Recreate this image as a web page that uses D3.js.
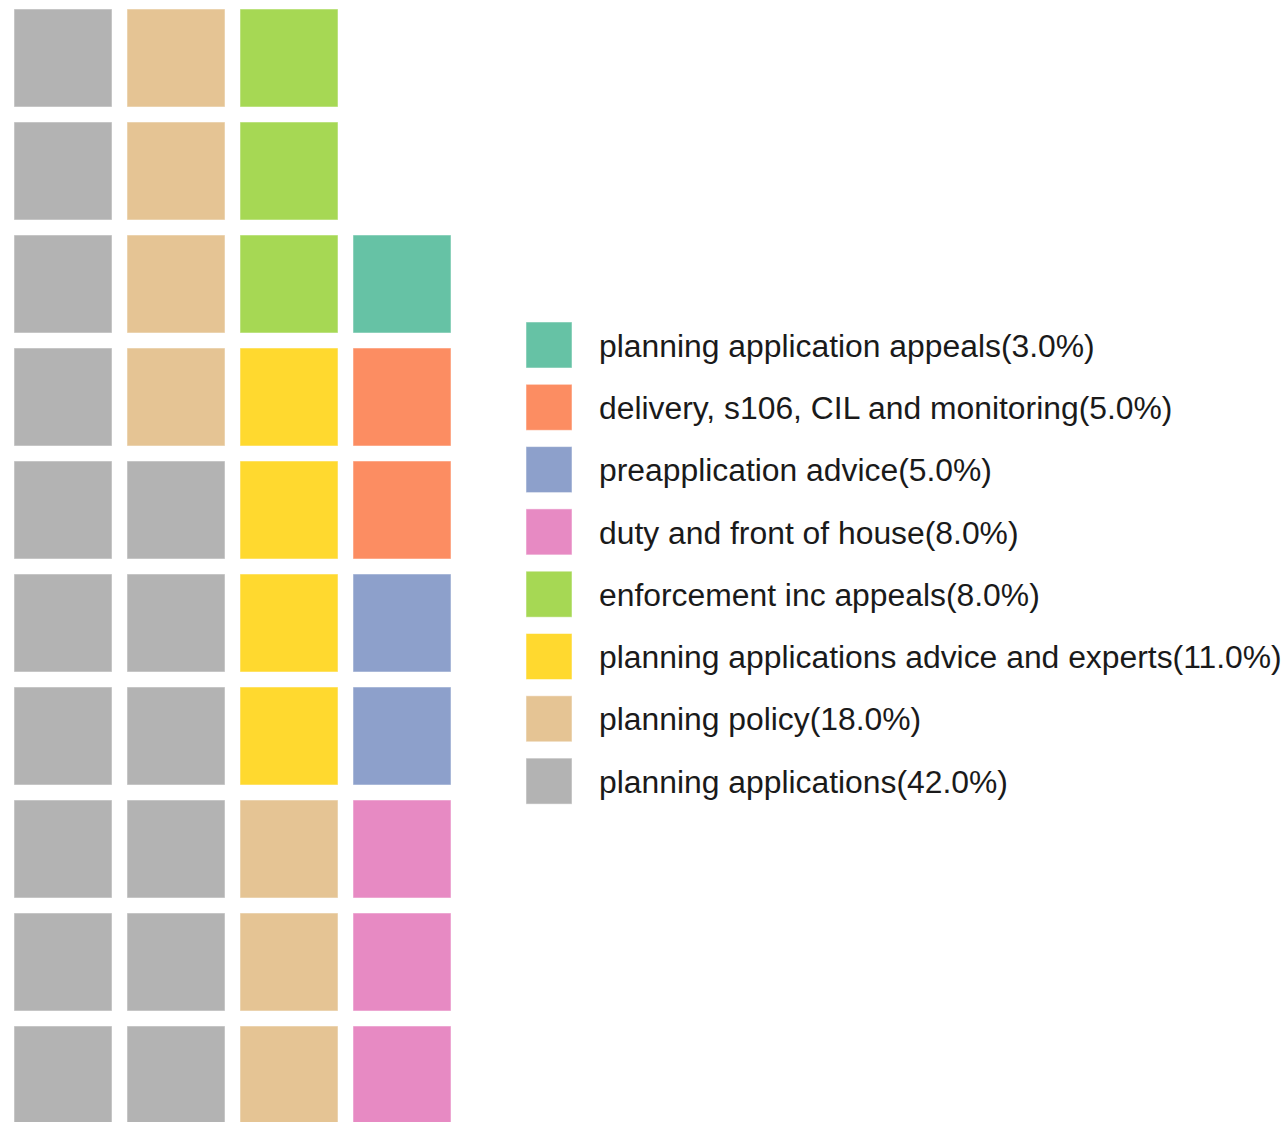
<!DOCTYPE html>
<html>
<head>
<meta charset="utf-8">
<script src="https://cdn.jsdelivr.net/npm/d3@7"></script>
<style>
  html, body { margin: 0; padding: 0; background: #fff; overflow: hidden; }
  svg { display: block; }
</style>
</head>
<body>
<svg id="chart" width="1286" height="1122"></svg>
<script>
// Categories in fill order (bottom-left, column by column upward)
const categories = [
  "planning applications",
  "planning policy",
  "planning applications advice and experts",
  "enforcement inc appeals",
  "duty and front of house",
  "preapplication advice",
  "delivery, s106, CIL and monitoring",
  "planning application appeals"
];
const percents = [42.0, 18.0, 11.0, 8.0, 8.0, 5.0, 5.0, 3.0];
const cellCounts = [16, 7, 4, 3, 3, 2, 2, 1];
const colors = ["#b3b3b3", "#e5c494", "#ffd92f", "#a6d854", "#e78ac3", "#8da0cb", "#fc8d62", "#66c2a5"];

const nRows = 10, nCols = 4;

const svg = d3.select("#chart");

const x = d3.scaleBand().domain(d3.range(nCols)).range([14, 451]).paddingInner(15 / 113).paddingOuter(0);
const y = d3.scaleBand().domain(d3.range(nRows)).range([9, 1124]).paddingInner(15 / 113).paddingOuter(0);
const color = d3.scaleOrdinal().domain(categories).range(colors);

// Build cells: column-major, bottom to top
const cells = [];
let idx = 0;
categories.forEach((c, ci) => {
  for (let k = 0; k < cellCounts[ci]; k++) {
    const col = Math.floor(idx / nRows);
    const row = nRows - 1 - (idx % nRows);
    cells.push({ cat: c, col, row });
    idx++;
  }
});

svg.append("g").selectAll("rect")
  .data(cells)
  .join("rect")
  .attr("x", d => x(d.col))
  .attr("y", d => y(d.row))
  .attr("width", x.bandwidth())
  .attr("height", y.bandwidth())
  .attr("fill", d => color(d.cat))
  .attr("stroke", "rgba(255,255,255,0.5)")
  .attr("stroke-width", 1);

// Legend (reverse order)
const legendItems = categories.map((c, i) => ({ cat: c, pct: percents[i] })).reverse();
const ly = d3.scaleBand().domain(d3.range(legendItems.length)).range([322, 322 + 62.3 * legendItems.length]);

const lg = svg.append("g").selectAll("g")
  .data(legendItems)
  .join("g")
  .attr("transform", (d, i) => `translate(526,${ly(i)})`);

lg.append("rect")
  .attr("width", 46).attr("height", 46)
  .attr("fill", d => color(d.cat))
  .attr("stroke", "rgba(255,255,255,0.5)")
  .attr("stroke-width", 1);

lg.append("text")
  .attr("x", 73)
  .attr("y", 23.5)
  .attr("dy", "0.35em")
  .attr("font-family", "'Liberation Sans', Arial, sans-serif")
  .attr("font-size", 31.85)
  .attr("fill", "#1a1a1a")
  .text(d => `${d.cat}(${d.pct.toFixed(1)}%)`);
</script>
</body>
</html>
